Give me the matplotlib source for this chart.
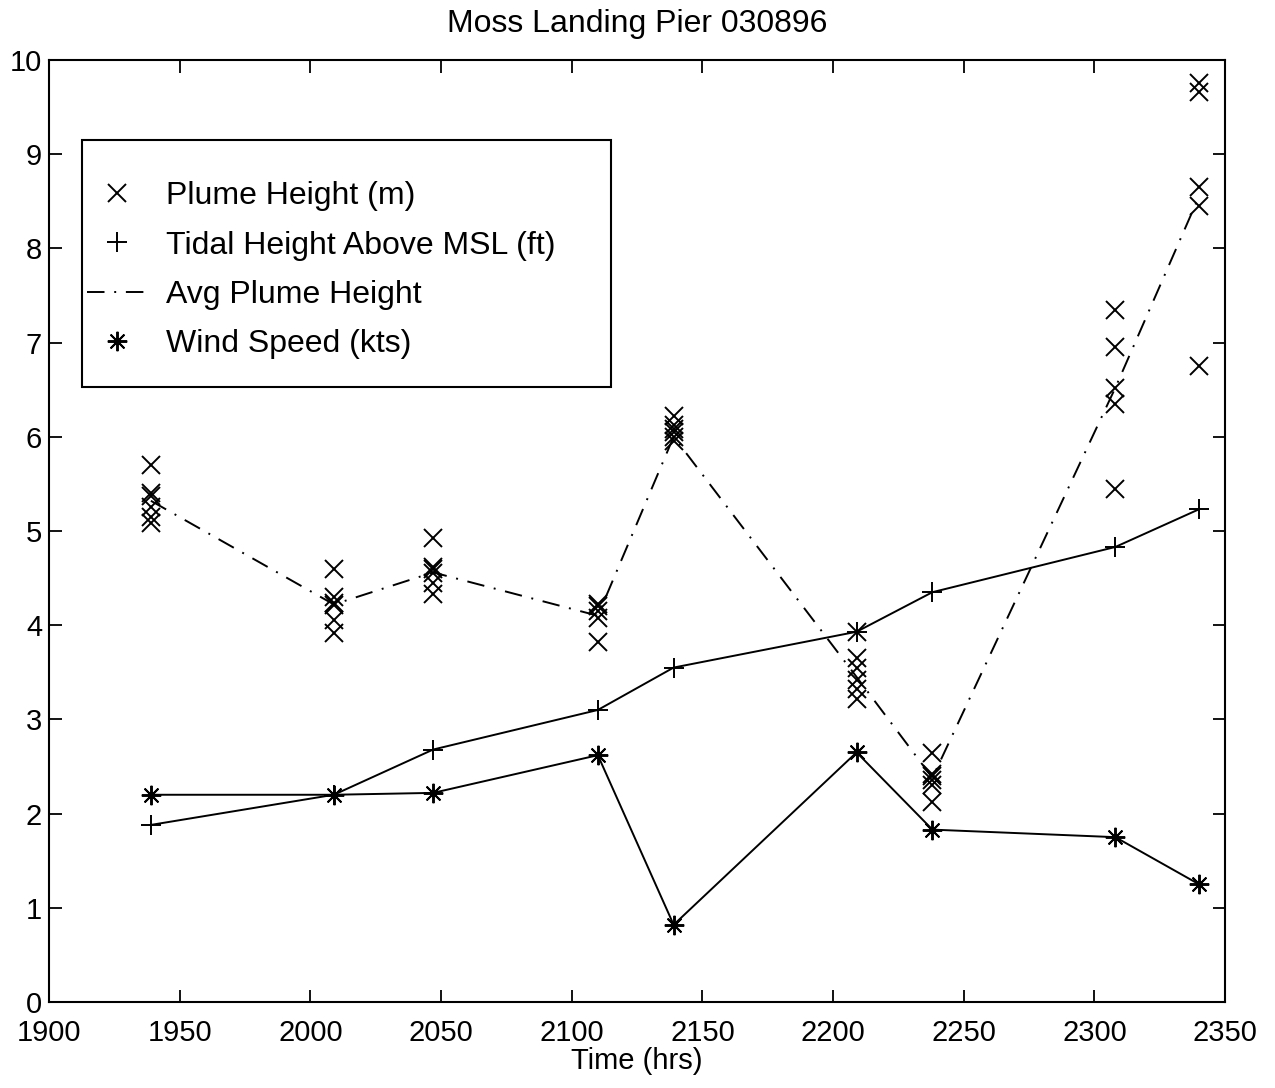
import matplotlib
matplotlib.use("Agg")
import matplotlib.pyplot as plt
from matplotlib.lines import Line2D
from matplotlib.patches import Rectangle

plt.rcParams['font.family'] = ['Liberation Sans', 'DejaVu Sans']

# sample times (hhmm)
times = [1939, 2009, 2047, 2110, 2139, 2209, 2238, 2308, 2340]

# individual plume heights (m) at each time
plume_heights = [
    [5.70, 5.40, 5.37, 5.25, 5.15, 5.08],
    [4.60, 4.30, 4.23, 4.21, 4.05, 3.92],
    [4.92, 4.62, 4.60, 4.55, 4.45, 4.33],
    [4.22, 4.20, 4.15, 4.08, 3.82],
    [6.22, 6.12, 6.08, 6.05, 6.00, 5.95],
    [3.93, 3.65, 3.55, 3.42, 3.32, 3.22],
    [2.64, 2.42, 2.40, 2.36, 2.30, 2.12],
    [7.35, 6.95, 6.52, 6.35, 5.45],
    [9.75, 9.66, 8.65, 8.45, 6.75],
]
avg_plume = [5.32, 4.22, 4.56, 4.10, 6.00, 3.45, 2.38, 6.52, 8.55]
tide_ft = [1.88, 2.20, 2.68, 3.10, 3.55, 3.93, 4.35, 4.83, 5.23]
wind_kts = [2.20, 2.20, 2.22, 2.62, 0.82, 2.65, 1.83, 1.75, 1.25]

labels = ['Plume Height (m)', 'Tidal Height Above MSL (ft)',
          'Avg Plume Height', 'Wind Speed (kts)']

fig = plt.figure(figsize=(12.75, 10.88), dpi=100)
ax = fig.add_axes([0.0384, 0.079, 0.9225, 0.866])

px, py = [], []
for t, vals in zip(times, plume_heights):
    px += [t] * len(vals)
    py += vals

star = (8, 2, 0)
ax.plot(px, py, 'x', color='k', ms=13, mew=1.4)
ax.plot(times, tide_ft, '-+', color='k', lw=1.4, ms=15, mew=1.4)
ax.plot(times, avg_plume, color='k', lw=1.4, ls=(0, (9, 5, 1, 5)))
ax.plot(times, wind_kts, '-', color='k', lw=1.4, marker=star, ms=14, mew=1.4)

ax.set_xlim(1900, 2350)
ax.set_ylim(0, 10)
ax.set_xticks(range(1900, 2351, 50))
ax.set_yticks(range(0, 11))
ax.tick_params(direction='in', length=9, width=1.3, top=True, right=True,
               labelsize=21)
ax.tick_params(axis='x', pad=12)
ax.tick_params(axis='y', pad=5)
for s in ax.spines.values():
    s.set_linewidth(1.5)

ax.set_xlabel('Time (hrs)', fontsize=21, labelpad=0)
ax.set_title('Moss Landing Pier 030896', fontsize=23, pad=20)

# legend handles: markers only for the point series, as in the original
handles = [
    Line2D([], [], ls='none', marker='x', color='k', ms=13, mew=1.4),
    Line2D([], [], ls='none', marker='+', color='k', ms=15, mew=1.4),
    Line2D([], [], color='k', lw=1.4, ls=(0, (9, 5, 1, 5))),
    Line2D([], [], ls='none', marker=star, color='k', ms=14, mew=1.4),
]

# legend box drawn by hand, entries placed on top
ax.add_patch(Rectangle((0.028, 0.6525), 0.45, 0.262, transform=ax.transAxes,
                       facecolor='white', edgecolor='k', lw=1.5, zorder=4))
leg = ax.legend(handles, labels,
                loc='upper left', bbox_to_anchor=(0.032, 0.871),
                frameon=False, borderpad=0, borderaxespad=0,
                handlelength=1.9, handletextpad=0.6, labelspacing=0.6,
                fontsize=23)
leg.set_zorder(5)

fig.savefig('out.png', dpi=100)
